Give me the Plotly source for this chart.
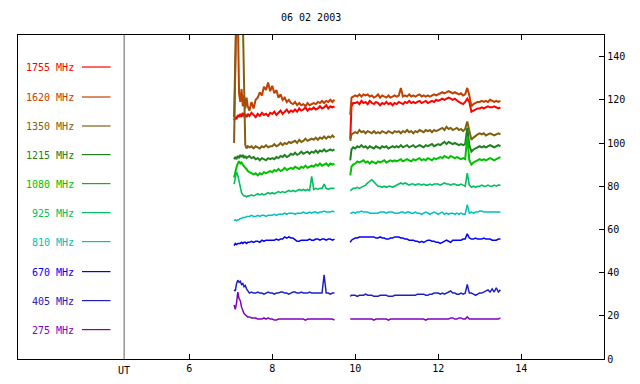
import plotly.graph_objects as go

# ---- time axes (UT hours) ----
T1 = [7.08, 7.11, 7.14, 7.17, 7.20, 7.23, 7.26, 7.29, 7.32, 7.35, 7.38, 7.41,
      7.45, 7.50, 7.55, 7.60, 7.65, 7.70, 7.75, 7.80, 7.85, 7.90, 7.95,
      8.00, 8.05, 8.10, 8.15, 8.20, 8.25, 8.30, 8.35, 8.40, 8.45,
      8.50, 8.55, 8.60, 8.65, 8.70, 8.75, 8.80, 8.85, 8.90, 8.95,
      9.00, 9.05, 9.10, 9.15, 9.20, 9.25, 9.30, 9.35, 9.40, 9.45, 9.50]
T2 = [9.88, 9.91, 9.95,
      10.00, 10.05, 10.10, 10.15, 10.20, 10.25, 10.30, 10.35, 10.40, 10.45,
      10.50, 10.55, 10.60, 10.65, 10.70, 10.75, 10.80, 10.85, 10.90, 10.95,
      11.00, 11.05, 11.10, 11.15, 11.20, 11.25, 11.30, 11.35, 11.40, 11.45,
      11.50, 11.55, 11.60, 11.65, 11.70, 11.75, 11.80, 11.85, 11.90, 11.95,
      12.00, 12.05, 12.10, 12.15, 12.20, 12.25, 12.30, 12.35, 12.40, 12.45,
      12.50, 12.55, 12.60, 12.65, 12.70, 12.75, 12.80, 12.85, 12.90, 12.95,
      13.00, 13.05, 13.10, 13.15, 13.20, 13.25, 13.30, 13.35, 13.40, 13.45, 13.50]

# ---- series values (flux units) ----
s1755_a = [110.5, 112, 111, 113, 112, 113.5, 112, 114, 112.5, 113, 112, 113.5,
           112.5, 114, 113, 112, 113.5, 112.5, 114, 113, 113.5, 112.5, 114,
           113.5, 114.5, 113, 114, 115, 113.5, 114.5, 115.5, 114, 115,
           114.5, 115.5, 114.5, 116, 115, 115.5, 116.5, 115, 116, 115.5,
           116.5, 115.5, 116, 117, 116, 116.5, 117.5, 116, 117, 116.5, 117]
s1755_b = [102, 117, 118.5,
           118.5, 119, 118, 119.5, 118.5, 119, 118, 119.5, 118.5, 118, 119, 118.5, 117.5, 118.5, 118, 119, 118, 118.5, 117.5, 118.5,
           118, 119, 118.5, 118, 119, 118.5, 119.5, 118.5, 119, 118.5, 119, 119.5, 118.5, 119, 119.5, 118.5, 119, 119.5, 119, 120,
           119.5, 120, 120.5, 120, 120.5, 121, 120.5, 120, 120.5, 119.5, 119, 118.5, 118, 119, 120.5, 119, 114.5, 115, 115.5, 116,
           116, 116.5, 116, 116.5, 117, 116.5, 116.5, 117, 116.5, 116, 116.5]

s1620_a = [112, 135, 165, 160, 123, 119, 125, 117, 122, 116, 121, 117,
           115, 119, 116, 120, 121, 123.5, 122, 126, 124.5, 128, 124,
           126.5, 123, 124.5, 121, 122.5, 120, 121, 119, 120, 118.5,
           118, 119, 117.5, 118.5, 117.5, 118, 117, 118.5, 117.5, 118,
           118.5, 118, 119, 118.5, 119.5, 118.5, 119.5, 119, 120, 119, 120]
s1620_b = [113, 121, 121.5,
           122, 121.5, 122.5, 121.5, 122.5, 122, 122.5, 121.5, 122, 121, 121.5, 122.5, 121, 122, 121.5, 121, 122, 121, 121.5, 122,
           121.5, 122, 125.5, 121.5, 122, 121.5, 122.5, 121.5, 122, 121.5, 122, 122.5, 121.5, 122, 121.5, 122, 121.5, 122, 122.5, 122,
           122.5, 123, 123.5, 123, 123.5, 124, 123.5, 123, 123.5, 123, 122.5, 123, 122, 122.5, 125.5, 122, 117, 118, 118.5, 119,
           119, 119.5, 119, 119.5, 119, 120, 119.5, 119, 119.5, 119, 119.5]

s1350_a = [100, 140, 170, 165, 170, 160, 165, 158, 135, 99, 97.5, 98.5,
           98, 98.5, 97.5, 98.5, 98, 97.5, 98.5, 98, 99, 98, 98.5,
           98.5, 99.5, 98.5, 99, 100, 99, 100, 99.5, 100.5, 100,
           100.5, 101, 100, 101.5, 100.5, 101, 102, 101, 101.5, 102,
           101.5, 102.5, 101.5, 102.5, 102, 103, 102, 103, 102.5, 103.5, 102.5]
s1350_b = [101, 104, 104.5,
           105, 104.5, 106, 105, 105.5, 104.5, 105.5, 105, 104.5, 105.5, 104.5, 105, 104.5, 105.5, 105, 104.5, 105.5, 105, 104.5, 105.5,
           105, 105.5, 104.5, 105.5, 105, 106, 105, 105.5, 104.5, 105.5, 105, 106, 105.5, 105, 106, 105.5, 106, 105, 106, 105.5,
           106, 106.5, 107, 106, 107.5, 106.5, 107, 106, 106.5, 107, 106, 106.5, 105.5, 106.5, 110, 106, 101.5, 102.5, 103.5, 104,
           104.5, 104, 104.5, 103.5, 104, 104.5, 104, 103.5, 104, 104.5, 104]

s1215_a = [92.5, 93.5, 92.5, 94, 93, 94.5, 93.5, 94.5, 93, 94, 93, 93.5,
           94, 93, 93.5, 92.5, 93, 92, 93, 92.5, 92, 93, 92.5,
           93, 92.5, 93.5, 93, 94, 93.5, 94.5, 93.5, 94, 95,
           94.5, 95.5, 94.5, 95, 96, 95, 95.5, 96, 95, 96,
           95.5, 96.5, 95.5, 96.5, 96, 97, 96, 96.5, 97, 96.5, 97]
s1215_b = [92, 97, 98,
           97.5, 98.5, 98, 99, 98, 98.5, 97.5, 98.5, 98, 97.5, 98.5, 98, 97.5, 98.5, 98, 98.5, 97.5, 98, 98.5, 98,
           98.5, 98, 99, 98, 98.5, 99, 98, 98.5, 99, 98, 98.5, 99, 98.5, 98, 99, 98.5, 99, 99.5, 98.5, 99,
           99.5, 99, 100, 100.5, 99.5, 100.5, 100, 99.5, 100, 99.5, 99, 99.5, 99, 99.5, 107, 99, 96, 97, 97.5, 98,
           98.5, 98, 98.5, 98, 98.5, 99, 98.5, 98, 98.5, 99, 98.5]

s1080_a = [84, 87, 89, 90.5, 91.5, 90.5, 91, 90, 89, 88.5, 88, 87,
           86.5, 86, 85.5, 86, 85, 86, 85.5, 86.5, 86, 86.5, 87,
           86.5, 87.5, 87, 88, 87, 87.5, 88.5, 87.5, 88, 88.5,
           88, 89, 88.5, 88, 89, 88.5, 89.5, 88.5, 89, 89.5,
           89, 90, 89.5, 90.5, 89.5, 90, 90.5, 89.5, 90.5, 90, 90.5]
s1080_b = [85, 89, 90,
           90.5, 91.5, 91, 91.5, 92, 91, 91.5, 90.5, 91.5, 91, 90.5, 91.5, 91, 91.5, 92, 91, 91.5, 92, 91.5, 92,
           91.5, 92, 92.5, 91.5, 92, 92.5, 92, 91.5, 92.5, 92, 92.5, 93, 92, 92.5, 92, 93, 92.5, 92, 93, 92.5,
           93, 93.5, 93, 94, 93.5, 93, 94, 93.5, 93, 93.5, 93, 92.5, 93, 92.5, 103, 92, 90, 91, 91.5, 92,
           92.5, 92, 92.5, 92, 92.5, 93, 92.5, 92, 92.5, 93, 93.5]

s925_a = [81, 84, 86.5, 85, 82, 79, 77, 76, 75.5, 75.5, 75, 75.5,
          75.5, 76, 75.5, 76, 76.5, 76, 76.5, 76, 76.5, 77, 76.5,
          77, 76.5, 77, 77.5, 77, 77.5, 77, 77.5, 78, 77.5,
          78, 77.5, 78, 78.5, 78, 78.5, 78, 78.5, 78, 84.5,
          78.5, 79, 78.5, 79, 79, 81, 79, 78.5, 79, 79, 79]
s925_b = [78, 78.5, 79,
          79, 79.5, 79, 79.5, 80, 80.5, 81.5, 82.5, 83, 82, 81, 80, 80, 79.5, 80, 79.5, 80, 80, 79.5, 80,
          80.5, 81, 81.5, 81, 81.5, 81, 80.5, 81, 81, 80.5, 81, 81, 80.5, 81, 80.5, 80.5, 81, 80.5, 81, 81,
          81, 80.5, 81, 81.5, 81, 81, 80.5, 81, 81, 80.5, 80.5, 81, 80.5, 80, 86, 80.5, 79.5, 80, 79.5, 80,
          80, 80.5, 80, 80, 80.5, 80, 80, 80.5, 80, 80.5, 80.5]

s810_a = [64, 64.5, 64, 64.5, 64.5, 65, 65, 65.5, 65.5, 65.5, 66, 66,
          66, 66.5, 66, 66, 66.5, 66, 66.5, 66.5, 66, 66.5, 66.5,
          66.5, 67, 66.5, 67, 67, 67, 67.5, 67, 67.5, 67.5,
          67.5, 67, 67.5, 67.5, 67.5, 68, 67.5, 67.5, 68, 67.5,
          68, 68, 67.5, 68, 68, 68.5, 68, 68, 68, 68.5, 68]
s810_b = [67.5, 67.5, 68,
          67.5, 68, 68, 68.5, 68, 68, 68, 67.5, 67.5, 67.5, 67.5, 67.5, 68, 68, 68, 67.5, 68, 68, 68, 67.5,
          67.5, 67.5, 68, 68, 67.5, 68, 68, 67.5, 67.5, 68, 67.5, 67.5, 67, 67.5, 68, 67.5, 67, 67.5, 68, 67.5,
          67, 67.5, 68, 67, 67.5, 67, 67.5, 67.5, 67, 67.5, 67, 67.5, 67, 67, 71.5, 67.5, 68, 67.5, 68, 68,
          68.5, 68.5, 68, 68, 68, 68, 68, 68, 68, 68, 68]

s670_a = [52.5, 53.5, 53, 53.5, 53.5, 53.5, 54, 53.5, 54, 54, 53.5, 54,
          54, 54.5, 54, 54.5, 54.5, 54, 55, 54.5, 55, 55, 55,
          55, 55, 55.5, 55, 55.5, 55.5, 56.5, 56, 56.5, 56,
          56, 55, 54.5, 54.5, 55, 55, 55, 55, 55.5, 55,
          55, 55.5, 55.5, 55, 55.5, 55.5, 55, 55.5, 55.5, 55, 55.5]
s670_b = [54, 55, 55.5,
          56, 56, 56.5, 56.5, 56.5, 56.5, 56.5, 56.5, 56.5, 56.5, 56, 56, 56.5, 56, 56, 55.5, 55.5, 56, 56, 56.5,
          56.5, 56.5, 56, 56, 55.5, 55.5, 55, 55, 55, 54.5, 54.5, 54, 54.5, 54, 54.5, 55, 55, 54.5, 54.5, 54,
          54, 53.5, 54, 54.5, 55, 54.5, 54, 55, 55, 55, 55, 55, 55.5, 55.5, 58, 56, 55.5, 55.5, 56, 55.5,
          55.5, 55.5, 56, 55.5, 55.5, 55.5, 55, 55, 55, 55.5, 55.5]

s405_a = [32, 31.5, 35, 36.5, 35.5, 36, 34.5, 35, 33.5, 34, 32.5, 31.5,
          30.5, 31, 30.5, 30.5, 31, 30.5, 30.5, 30, 30.5, 31, 30.5,
          30.5, 30, 30.5, 30.5, 31, 31, 30.5, 30.5, 30, 30.5,
          31, 31, 30.5, 30.5, 31, 30.5, 30.5, 30.5, 31, 30.5,
          30.5, 30.5, 30.5, 30.5, 30.5, 39, 30.5, 30.5, 30, 30.5, 30.5]
s405_b = [29, 29.5, 29.5,
          29.5, 29, 29.5, 29.5, 29.5, 30, 29.5, 29.5, 29.5, 29, 29, 29, 29.5, 29.5, 29.5, 29.5, 29, 29, 29, 29.5,
          29.5, 29.5, 29.5, 29.5, 29.5, 29.5, 29.5, 29.5, 29.5, 29.5, 30, 30, 30, 30, 29.5, 29.5, 30, 30, 30.5, 30.5,
          30.5, 30, 30.5, 30, 30.5, 31, 31.5, 30.5, 30.5, 30, 30, 30.5, 30, 30.5, 34.5, 30.5, 30.5, 30, 29.5, 30,
          30.5, 30.5, 31, 31.5, 32, 31, 32.5, 31, 33, 31, 32]

s275_a = [25, 23, 26, 31, 28, 27, 24, 22, 21, 20.5, 20, 19.5,
          19.5, 19, 19, 19, 18.5, 18.5, 18.5, 19, 18.5, 19, 18.5,
          18.5, 18, 18, 18.5, 18.5, 18.5, 18.5, 18.5, 18.5, 18.5,
          18.5, 18.5, 18.5, 18.5, 18.5, 18.5, 18, 18.5, 18.5, 18.5,
          18.5, 18.5, 18.5, 18.5, 18.5, 18.5, 18.5, 18.5, 18.5, 18.5, 18]
s275_b = [18.5, 18.5, 18.5,
          18.5, 18.5, 18.5, 18.5, 18.5, 18.5, 18.5, 18.5, 18.5, 18, 18.5, 18.5, 18.5, 18.5, 18.5, 18.5, 18, 18.5, 18.5, 18.5,
          18.5, 18.5, 18.5, 18.5, 18.5, 18.5, 18.5, 18.5, 18.5, 18.5, 18.5, 18.5, 18.5, 18.5, 18, 18.5, 18.5, 18.5, 18.5, 18.5,
          18.5, 18.5, 18.5, 18.5, 18.5, 18.5, 19, 19, 18.5, 18.5, 19, 19, 18.5, 18.5, 19.5, 18.5, 18.5, 18.5, 18.5, 18.5,
          18.5, 18.5, 18.5, 18.5, 18.5, 18.5, 18.5, 18.5, 18.5, 18.5, 19]

labels = ["1755 MHz", "1620 MHz", "1350 MHz", "1215 MHz", "1080 MHz",
          "925 MHz", "810 MHz", "670 MHz", "405 MHz", "275 MHz"]
colors = ["#ff0000", "#c04000", "#806010", "#208020", "#00c000",
          "#00c060", "#00c0c0", "#0000ff", "#2020c0", "#8000c0"]
widths = [2, 2, 2, 2, 2, 1.6, 1.5, 1.5, 1.5, 1.5]
seg_a = [s1755_a, s1620_a, s1350_a, s1215_a, s1080_a, s925_a, s810_a, s670_a, s405_a, s275_a]
seg_b = [s1755_b, s1620_b, s1350_b, s1215_b, s1080_b, s925_b, s810_b, s670_b, s405_b, s275_b]

for a, b, lab in zip(seg_a, seg_b, labels):
    if len(a) != len(T1) or len(b) != len(T2):
        raise SystemExit(f"length mismatch {lab}: {len(a)} {len(b)}")

TITLE = "06 02 2003"
UT_X = 4.43
FONT = "DejaVu Sans Mono"

fig = go.Figure()
for a, b, lab, col, w in zip(seg_a, seg_b, labels, colors, widths):
    fig.add_trace(go.Scatter(
        x=T1 + [None] + T2, y=a + [None] + b, mode="lines", name=lab,
        line=dict(color=col, width=w), connectgaps=False,
        showlegend=False, hoverinfo="skip"))

# page body has an 8px margin, so the figure is drawn 8px right/down.
OFF = 8
# plot area in screen pixels: x 18..604, y 35..359
L, R, TOP, BOT = 18, 604, 35, 359
W, H = 640 - OFF, 384 - 2 * OFF
def px(x):
    return (x - L) / (R - L)
def py(y):
    return (BOT - y) / (BOT - TOP)

leg_y = [67.7, 97.7, 126.7, 155.3, 184.3, 213.3, 242.3, 272.3, 301.3, 330.3]
annotations = []
shapes = []
for lab, col, yy in zip(labels, colors, leg_y):
    annotations.append(dict(text=lab, x=px(76), y=py(yy), xref="paper", yref="paper",
                            xanchor="right", yanchor="middle", showarrow=False,
                            font=dict(family=FONT, size=10, color=col)))
    shapes.append(dict(type="line", xref="paper", yref="paper",
                       x0=px(82), x1=px(110.5), y0=py(yy - 0.7), y1=py(yy - 0.7),
                       line=dict(color=col, width=1.2)))

shapes.append(dict(type="line", xref="x", yref="paper", x0=UT_X, x1=UT_X, y0=0, y1=1,
                   line=dict(color="#606060", width=1)))
annotations.append(dict(text="UT", x=UT_X, y=0, xref="x", yref="paper", xanchor="center",
                        yanchor="top", yshift=-4, showarrow=False,
                        font=dict(family=FONT, size=10, color="black")))
annotations.append(dict(text=TITLE, x=px(311), y=py(18), xref="paper", yref="paper",
                        xanchor="center", yanchor="middle", showarrow=False,
                        font=dict(family=FONT, size=10, color="black")))

fig.update_layout(
    width=W, height=H,
    margin=dict(l=L - OFF, r=640 - R, t=TOP - OFF, b=H - (BOT - OFF), pad=0),
    paper_bgcolor="white", plot_bgcolor="white",
    font=dict(family=FONT, size=10, color="black"),
    annotations=annotations, shapes=shapes,
    xaxis=dict(range=[1.872, 15.996], tickvals=[6, 8, 10, 12, 14],
               ticktext=["6", "8", "10", "12", "14"],
               ticks="inside", ticklen=5, tickcolor="black", tickwidth=1,
               showline=True, linecolor="black", linewidth=1.3, mirror="ticks",
               showgrid=False, zeroline=False, automargin=False,
               tickfont=dict(family=FONT, size=10, color="black")),
    yaxis=dict(range=[0, 150], side="right", tickvals=[0, 20, 40, 60, 80, 100, 120, 140],
               ticks="inside", ticklen=5, tickcolor="black", tickwidth=1,
               showline=True, linecolor="black", linewidth=1.3, mirror=True,
               showgrid=False, zeroline=False, automargin=False,
               tickfont=dict(family=FONT, size=10, color="black")),
)

fig.write_html("out.html")
